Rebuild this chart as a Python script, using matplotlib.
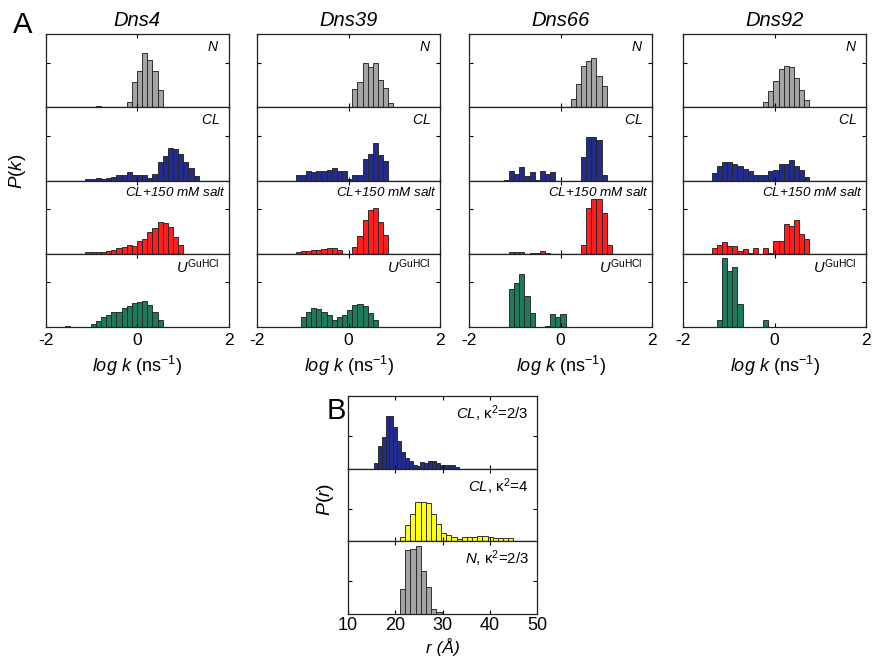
import matplotlib
matplotlib.use('Agg')
import matplotlib.pyplot as plt
import numpy as np

plt.rcParams['font.family'] = ['Liberation Sans', 'DejaVu Sans']
plt.rcParams['mathtext.fontset'] = 'custom'
plt.rcParams['mathtext.rm'] = 'Liberation Sans'
plt.rcParams['mathtext.it'] = 'Liberation Sans:italic'
plt.rcParams['mathtext.bf'] = 'Liberation Sans:bold'
plt.rcParams['axes.unicode_minus'] = False

# ---------------- data: panel A (log k histograms) ----------------
proteins = ['Dns4', 'Dns39', 'Dns66', 'Dns92']
condition_labels = [r'$N$', r'$CL$', r'$CL$+150 mM salt', r'$U^{\mathrm{GuHCl}}$']
logk_ticks = [-2, 0, 2]
logk_bin_width = 0.1125
logk_first_edge = [-1.126, -1.155, -1.126, -1.373]   # left edge of bin 0, per protein

# each series: (index of first bin, heights of consecutive bins)
dns4_N = (2, [0.015, 0, 0, 0, 0, 0, 0.065, 0.34, 0.50, 0.74, 0.65, 0.50, 0.23])
dns4_CL = (0, [0.02, 0.02, 0.03, 0.02, 0.04, 0.045, 0.08, 0.08, 0.11, 0.08, 0.07,
               0.08, 0.04, 0.09, 0.25, 0.33, 0.45, 0.43, 0.36, 0.25, 0.17, 0.055])
dns4_salt = (0, [0.02, 0.03, 0.02, 0.02, 0.04, 0.045, 0.08, 0.09, 0.12, 0.11, 0.18,
                 0.20, 0.30, 0.35, 0.44, 0.42, 0.37, 0.23, 0.12])
dns4_U = (-4, [0.008, 0, 0, 0, 0, 0.035, 0.08, 0.14, 0.17, 0.20, 0.20, 0.26, 0.28,
               0.33, 0.34, 0.35, 0.30, 0.20, 0.10])

dns39_N = (0, [0.01, 0.01, 0.01, 0, 0, 0, 0, 0, 0, 0, 0,
               0.25, 0.34, 0.61, 0.55, 0.61, 0.37, 0.26, 0.055])
dns39_CL = (0, [0.07, 0.08, 0.125, 0.11, 0.125, 0.125, 0.145, 0.165, 0.125, 0.125,
                0.02, 0.07, 0.07, 0.30, 0.36, 0.51, 0.35, 0.26])
dns39_salt = (0, [0.03, 0.035, 0.04, 0.045, 0.055, 0.07, 0.08, 0.08, 0.045, 0, 0,
                  0.09, 0.245, 0.455, 0.60, 0.625, 0.44, 0.25])
dns39_U = (1, [0.13, 0.20, 0.26, 0.25, 0.20, 0.16, 0.10, 0.13, 0.16, 0.23, 0.30,
               0.32, 0.29, 0.19, 0.10])

dns66_N = (-1, [0.01, 0.01, 0, 0.01, 0.01, 0, 0, 0, 0, 0, 0, 0, 0,
                0.11, 0.32, 0.56, 0.63, 0.67, 0.42, 0.29])
dns66_CL = (-1, [0.01, 0.123, 0.09, 0.18, 0.055, 0.114, 0.01, 0.128, 0.087, 0.12,
                 0, 0, 0, 0, 0, 0.32, 0.60, 0.59, 0.55, 0.08])
dns66_salt = (0, [0.03, 0.025, 0.03, 0, 0.015, 0.015, 0.035, 0.015, 0, 0, 0, 0, 0, 0,
                  0.12, 0.625, 0.75, 0.745, 0.555, 0.12])
dns66_U = (0, [0.52, 0.60, 0.72, 0.42, 0.19, 0, 0, 0.02, 0.18, 0.14, 0.18])

dns92_N = (1, [0.01, 0.01, 0, 0, 0, 0, 0, 0, 0,
               0.07, 0.22, 0.36, 0.52, 0.56, 0.55, 0.40, 0.24, 0.10])
dns92_CL = (0, [0.105, 0.20, 0.25, 0.25, 0.23, 0.195, 0.16, 0.13, 0.08, 0.08, 0.07,
                0.13, 0.15, 0.23, 0.23, 0.28, 0.195, 0.15, 0.05])
dns92_salt = (0, [0.078, 0.114, 0.16, 0.105, 0.105, 0.032, 0.068, 0.014, 0.078, 0,
                  0.078, 0.014, 0.17, 0.18, 0.40, 0.38, 0.46, 0.27, 0.20])
dns92_U = (1, [0.09, 0.945, 0.76, 0.82, 0.32, 0, 0, 0, 0, 0.09])

series_A = [
    [dns4_N, dns4_CL, dns4_salt, dns4_U],
    [dns39_N, dns39_CL, dns39_salt, dns39_U],
    [dns66_N, dns66_CL, dns66_salt, dns66_U],
    [dns92_N, dns92_CL, dns92_salt, dns92_U],
]

# ---------------- data: panel B (distance histograms) ----------------
r_ticks = [10, 20, 30, 40, 50]
B_labels = [r'$CL$, κ$^{2}$=2/3', r'$CL$, κ$^{2}$=4', r'$N$, κ$^{2}$=2/3']
B_first_edge = [15.5, 21.0, 21.0]
B_bin_width = [0.82, 1.09, 1.10]
B_CL_k23 = [0.076, 0.31, 0.44, 0.72, 0.72, 0.58, 0.375, 0.23, 0.14, 0.107, 0.045,
            0.03, 0.09, 0.076, 0.107, 0.10, 0.076, 0.054, 0.045, 0.045, 0.045, 0.02]
B_CL_k4 = [0.065, 0.23, 0.37, 0.545, 0.545, 0.53, 0.37, 0.24, 0.116, 0.09, 0.065,
           0.035, 0.065, 0.06, 0.055, 0.075, 0.075, 0.06, 0.045, 0.045, 0.045, 0.04]
B_N_k23 = [0.345, 0.88, 0.90, 0.93, 0.59, 0.37, 0.065, 0.03]
B_series = [B_CL_k23, B_CL_k4, B_N_k23]

# ---------------- style ----------------
GRAY = '#a4a4a4'
BLUE = '#232c8c'
RED = '#ff1d1d'
GREEN = '#1d7a5b'
YELLOW = '#ffff1c'
EDGE = '#262626'
colors_A = [GRAY, BLUE, RED, GREEN]
colors_B = [BLUE, YELLOW, GRAY]

W, H = 873, 660
fig = plt.figure(figsize=(W / 100, H / 100), dpi=100)


def add_px_axes(left, top, width, height):
    return fig.add_axes([left / W, 1 - (top + height) / H, width / W, height / H])


def style_axes(ax, xlim, xticks, ytick, show_labels, labelsize, pad):
    ax.set_xlim(*xlim)
    ax.set_ylim(0, 1)
    ax.set_xticks(xticks)
    ax.set_yticks([ytick])
    ax.tick_params(direction='in', top=True, right=True, length=3, width=0.8,
                   labelleft=False, labelright=False, labelsize=labelsize, pad=pad,
                   labelbottom=show_labels, colors='black')
    for s in ax.spines.values():
        s.set_linewidth(0.9)
        s.set_color('#222222')


def draw_bars(ax, first_edge, width, start, heights, color):
    heights = np.asarray(heights, dtype=float)
    idx = np.arange(len(heights)) + start
    centers = first_edge + (idx + 0.5) * width
    m = heights > 0
    ax.bar(centers[m], heights[m], width=width, color=color, edgecolor=EDGE,
           linewidth=0.65, align='center')


# ---------------- panel A ----------------
col_left = [45.5, 257, 469, 683]
col_w = 183
row_top = 34
row_h = 73.25

for c, prot in enumerate(proteins):
    for r in range(4):
        ax = add_px_axes(col_left[c], row_top + r * row_h, col_w, row_h)
        start, hts = series_A[c][r]
        draw_bars(ax, logk_first_edge[c], logk_bin_width, start, hts, colors_A[r])
        style_axes(ax, (-2, 2), logk_ticks, 0.61, r == 3, 12.5, 4)
        if r == 2:
            ax.text(0.985, 0.93, condition_labels[r], transform=ax.transAxes,
                    ha='right', va='top', fontsize=9.7, style='italic')
        elif r == 3:
            ax.text(0.95, 0.95, condition_labels[r], transform=ax.transAxes,
                    ha='right', va='top', fontsize=10.5)
        else:
            ax.text(0.95, 0.92, condition_labels[r], transform=ax.transAxes,
                    ha='right', va='top', fontsize=10)
    cx = (col_left[c] + col_w / 2) / W
    fig.text(cx, 1 - 21 / H, prot, ha='center', va='center', fontsize=14.5,
             style='italic')
    fig.text(cx, 1 - 366 / H, r'$\mathit{log\ k}$ (ns$^{\mathrm{-1}}$)',
             ha='center', va='center', fontsize=13)

fig.text(23 / W, 1 - 25 / H, 'A', ha='center', va='center', fontsize=21)
fig.text(18 / W, 1 - 171 / H, r'$P(k)$', ha='center', va='center', fontsize=13.5,
         rotation=90)

# ---------------- panel B ----------------
B_left, B_w, B_top, B_h = 348, 189, 396, 72.67
for r in range(3):
    ax = add_px_axes(B_left, B_top + r * B_h, B_w, B_h)
    draw_bars(ax, B_first_edge[r], B_bin_width[r], 0, B_series[r], colors_B[r])
    style_axes(ax, (10, 50), r_ticks, 0.45, r == 2, 13, 2.5)
    ax.text(0.955, 0.9, B_labels[r], transform=ax.transAxes, ha='right', va='top',
            fontsize=10.8)

fig.text(336 / W, 1 - 411 / H, 'B', ha='center', va='center', fontsize=21)
fig.text(325 / W, 1 - 499 / H, r'$P(r)$', ha='center', va='center', fontsize=14,
         rotation=90)
fig.text((B_left + B_w / 2) / W, 1 - 647 / H, 'r (Å)', ha='center', va='center',
         fontsize=12.5, style='italic')

fig.savefig('out.png', dpi=100)
